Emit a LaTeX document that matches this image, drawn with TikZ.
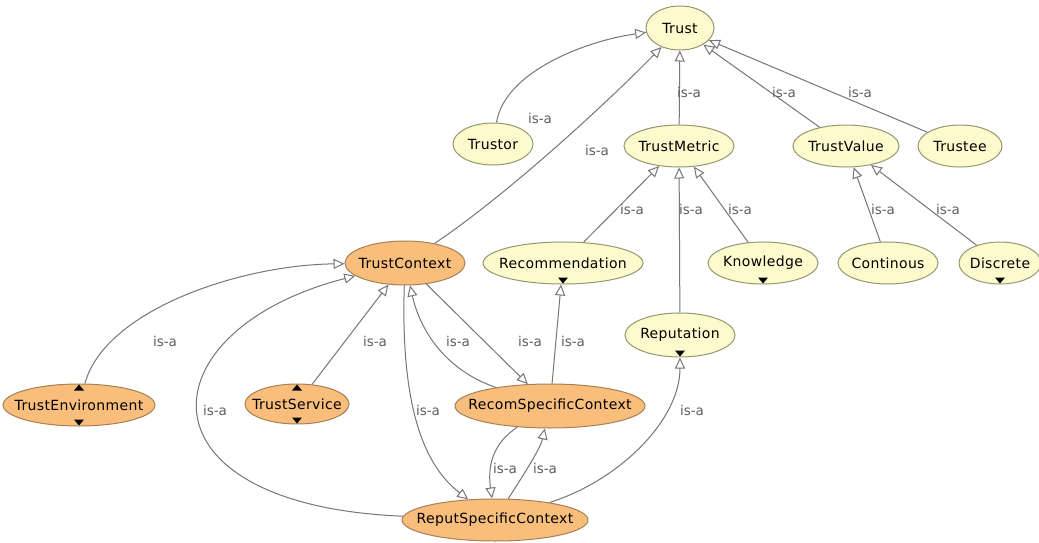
\documentclass[tikz,border=0pt]{standalone}
\usepackage{fontspec}
\setmainfont{DejaVu Sans}
\newfontfamily\clsfont[LetterSpace=2.5]{DejaVu Sans}
\usetikzlibrary{shapes.geometric,arrows.meta,calc}

\definecolor{ylfill}{RGB}{253,251,205}
\definecolor{ylborder}{RGB}{150,150,112}
\definecolor{orfill}{RGB}{249,190,124}
\definecolor{orborder}{RGB}{165,128,82}
\definecolor{edgegray}{RGB}{118,118,118}
\definecolor{lblgray}{RGB}{95,95,95}

% class name set without widening its ellipse
\newcommand\cname[1]{\makebox[0pt]{#1}}
% small expand markers inside a class node
\newcommand\triup[1]{\fill[black] ($(#1.north)+(0,1)$) -- ++(5,6) -- ++(-10,0) -- cycle;}
\newcommand\tridown[1]{\fill[black] ($(#1.south)+(0,-1)$) -- ++(5,-6) -- ++(-10,0) -- cycle;}

\tikzset{
  cls/.style={ellipse, inner sep=0pt, line width=1pt,
    font=\clsfont\fontsize{14}{16}\selectfont},
  ycls/.style={cls, fill=ylfill, draw=ylborder},
  ocls/.style={cls, fill=orfill, draw=orborder},
  isa/.style={draw=edgegray, line width=1pt,
    -{Triangle[length=11pt,width=10pt,fill=white]}},
  lbl/.style={text=lblgray, font=\fontsize{13.5}{15}\selectfont, inner sep=0pt},
}

\begin{document}
\begin{tikzpicture}[x=1pt,y=-1pt]
\useasboundingbox[fill=white] (0,0) rectangle (1039,543);

% classes
\node[ycls, minimum width=68pt, minimum height=44pt] (trust) at (680,28) {\cname{Trust}};
\node[ycls, minimum width=80pt, minimum height=42pt] (trustor) at (493,144) {\cname{Trustor}};
\node[ycls, minimum width=110pt, minimum height=42pt] (metric) at (679,146) {\cname{TrustMetric}};
\node[ycls, minimum width=106pt, minimum height=42pt] (value) at (846,146) {\cname{TrustValue}};
\node[ycls, minimum width=84pt, minimum height=42pt] (trustee) at (960,146) {\cname{Trustee}};
\node[ocls, minimum width=120pt, minimum height=44pt] (context) at (405,263) {\cname{TrustContext}};
\node[ycls, minimum width=160pt, minimum height=42pt] (recommendation) at (563,263) {\cname{Recommendation}};
\node[ycls, minimum width=110pt, minimum height=42pt] (knowledge) at (763,263) {\cname{Knowledge}};
\node[ycls, minimum width=100pt, minimum height=42pt] (continous) at (888,263) {\cname{Continous}};
\node[ycls, minimum width=82pt, minimum height=42pt] (discrete) at (1000,263) {\cname{Discrete}};
\node[ycls, minimum width=110pt, minimum height=44pt] (reputation) at (680,335) {\cname{Reputation}};
\node[ocls, minimum width=152pt, minimum height=42pt] (env) at (79,405) {\cname{TrustEnvironment}};
\node[ocls, minimum width=104pt, minimum height=40pt] (service) at (297,404) {\cname{TrustService}};
\node[ocls, minimum width=190pt, minimum height=44pt] (recom) at (550,406) {\cname{RecomSpecificContext}};
\node[ocls, minimum width=186pt, minimum height=42pt] (reput) at (495,520) {\cname{ReputSpecificContext}};

% expand markers
\triup{env} \tridown{env}
\triup{service} \tridown{service}
\tridown{knowledge} \tridown{discrete}
\tridown{recommendation} \tridown{reputation}

% is-a relations
\draw[isa] (trustor) .. controls (505,70) and (590,40) .. (trust);
\draw[isa] (context) .. controls (500,200) and (600,110) .. (trust);
\draw[isa] (metric) -- (trust);
\draw[isa] (value) -- (trust);
\draw[isa] (trustee) -- (trust);
\draw[isa] (recommendation) -- (metric);
\draw[isa] (reputation) -- (metric);
\draw[isa] (knowledge) -- (metric);
\draw[isa] (continous) -- (value);
\draw[isa] (discrete) -- (value);
\draw[isa] (env) .. controls (105,310) and (240,265) .. (context);
\draw[isa] (service) -- (context);
\draw[isa] (reput) .. controls (130,505) and (145,330) .. (context);
\draw[isa] (context) .. controls (400,420) and (430,470) .. (reput);
\draw[isa] (recom) .. controls (445,370) and (420,330) .. (context);
\draw[isa] (context) -- (recom);
\draw[isa] (recom) -- (recommendation);
\draw[isa] (recom) .. controls (490,445) and (488,470) .. (reput);
\draw[isa] (reput) .. controls (520,480) and (540,450) .. (recom);
\draw[isa] (reput) .. controls (620,480) and (680,420) .. (reputation);

% relation labels
\node[lbl] (l1) at (540,118) {is-a};
\node[lbl] (l2) at (597,150) {is-a};
\node[lbl] (l3) at (689,92) {is-a};
\node[lbl] (l4) at (784,92) {is-a};
\node[lbl] (l5) at (860,92) {is-a};
\node[lbl] (l6) at (632,209) {is-a};
\node[lbl] (l7) at (691,209) {is-a};
\node[lbl] (l8) at (740,209) {is-a};
\node[lbl] (l9) at (883,209) {is-a};
\node[lbl] (l10) at (948,209) {is-a};
\node[lbl] (l11) at (165,341) {is-a};
\node[lbl] (l12) at (375,341) {is-a};
\node[lbl] (l13) at (215,410) {is-a};
\node[lbl] (l14) at (428,410) {is-a};
\node[lbl] (l15) at (458,341) {is-a};
\node[lbl] (l16) at (530,341) {is-a};
\node[lbl] (l17) at (573,341) {is-a};
\node[lbl] (l18) at (505,468) {is-a};
\node[lbl] (l19) at (545,468) {is-a};
\node[lbl] (l20) at (692,410) {is-a};
\end{tikzpicture}
\end{document}
